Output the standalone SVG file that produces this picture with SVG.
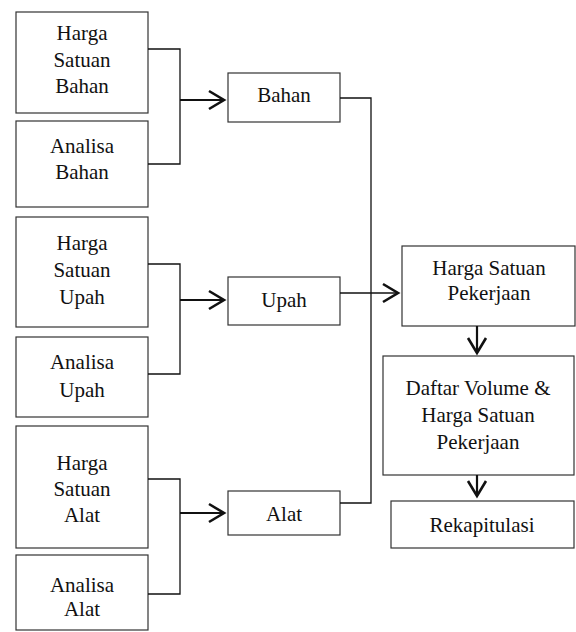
<svg xmlns="http://www.w3.org/2000/svg" width="576" height="632" viewBox="0 0 576 632">
<style>
.box{fill:#fff;stroke:#333;stroke-width:1.2}
.lbl{font-family:"Liberation Serif",serif;font-size:21px;fill:#111;text-anchor:middle}
.ln{fill:none;stroke:#111;stroke-width:1.3}
.th{fill:none;stroke:#111;stroke-width:2.2}
.ah{fill:none;stroke:#111;stroke-width:2.6;stroke-linejoin:miter}
</style>
<rect width="576" height="632" fill="#fff"/>
<g font-family="Liberation Serif" font-size="21">
<g id="hs-bahan"><rect class="box" x="16" y="12" width="132" height="101"/><text class="lbl" x="82" y="40">Harga</text><text class="lbl" x="82" y="67">Satuan</text><text class="lbl" x="82" y="93">Bahan</text></g>
<g id="an-bahan"><rect class="box" x="16" y="121" width="132" height="86"/><text class="lbl" x="82" y="153">Analisa</text><text class="lbl" x="82" y="179">Bahan</text></g>
<g id="hs-upah"><rect class="box" x="16" y="217" width="132" height="110"/><text class="lbl" x="82" y="250">Harga</text><text class="lbl" x="82" y="277">Satuan</text><text class="lbl" x="82" y="304">Upah</text></g>
<g id="an-upah"><rect class="box" x="16" y="337" width="132" height="80"/><text class="lbl" x="82" y="369">Analisa</text><text class="lbl" x="82" y="397">Upah</text></g>
<g id="hs-alat"><rect class="box" x="16" y="426" width="132" height="122"/><text class="lbl" x="82" y="470">Harga</text><text class="lbl" x="82" y="496">Satuan</text><text class="lbl" x="82" y="522">Alat</text></g>
<g id="an-alat"><rect class="box" x="16" y="555" width="132" height="75"/><text class="lbl" x="82" y="592">Analisa</text><text class="lbl" x="82" y="616">Alat</text></g>
<g id="bahan"><rect class="box" x="228" y="73" width="112" height="49"/><text class="lbl" x="284" y="102">Bahan</text></g>
<g id="upah"><rect class="box" x="228" y="277" width="112" height="48"/><text class="lbl" x="284" y="307">Upah</text></g>
<g id="alat"><rect class="box" x="228" y="491" width="112" height="44"/><text class="lbl" x="284" y="521">Alat</text></g>
<g id="hsp"><rect class="box" x="402" y="246" width="173" height="80"/><text class="lbl" x="489" y="275">Harga Satuan</text><text class="lbl" x="489" y="300">Pekerjaan</text></g>
<g id="daftar"><rect class="box" x="383" y="356" width="191" height="119"/><text class="lbl" x="478" y="395">Daftar Volume &amp;</text><text class="lbl" x="478" y="422">Harga Satuan</text><text class="lbl" x="478" y="449">Pekerjaan</text></g>
<g id="rekap"><rect class="box" x="391" y="501" width="183" height="47"/><text class="lbl" x="482" y="532">Rekapitulasi</text></g>
</g>
<g id="connectors">
<path class="ln" d="M148 49H180V164H148"/>
<path class="th" d="M180 100H224"/>
<path class="ah" d="M209 91L224 100L209 109"/>
<path class="ln" d="M148 264H180V374H148"/>
<path class="th" d="M180 300H224"/>
<path class="ah" d="M209 291L224 300L209 309"/>
<path class="ln" d="M148 479H180V594H148"/>
<path class="th" d="M180 513H224"/>
<path class="ah" d="M209 504L224 513L209 522"/>
<path class="ln" d="M340 98H371V503H340"/>
<path class="ln" d="M340 293H398"/>
<path class="ah" d="M383 284L398 293L383 302"/>
<path class="th" d="M477 326V353"/>
<path class="ah" d="M468 338L477 353L486 338"/>
<path class="th" d="M477 475V496"/>
<path class="ah" d="M468 481L477 496L486 481"/>
</g>
</svg>
